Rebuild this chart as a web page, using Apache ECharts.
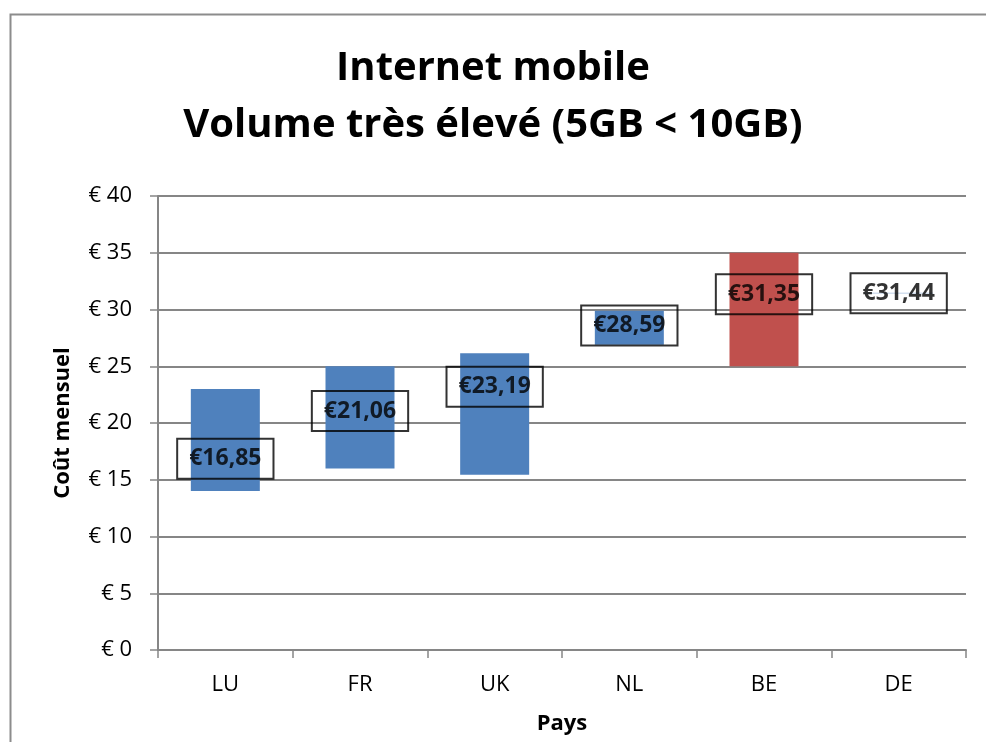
<!DOCTYPE html>
<html>
<head>
<meta charset="utf-8">
<script src="https://cdn.jsdelivr.net/npm/echarts@6/dist/echarts.min.js"></script>
<style>html,body{margin:0;padding:0;background:#fff;}#c{width:986px;height:742px;}</style>
</head>
<body>
<div id="c"></div>
<script>
var categories = ['LU', 'FR', 'UK', 'NL', 'BE', 'DE'];
var minValues = [14.0, 16.0, 15.45, 26.9, 25.0, 31.40];
var maxValues = [23.0, 25.0, 26.15, 29.9, 35.0, 31.48];
var avgValues = [16.85, 21.06, 23.19, 28.59, 31.35, 31.44];
var yTicks = [0, 5, 10, 15, 20, 25, 30, 35, 40];

var FONT = '"Open Sans", "Noto Sans", sans-serif';
var barColors = ['#4F81BD', '#4F81BD', '#4F81BD', '#4F81BD', '#C0504D', '#A7C0DE'];

var chart = echarts.init(document.getElementById('c'));
var rangeData = categories.map(function (c, i) {
  return { value: +(maxValues[i] - minValues[i]).toFixed(2), itemStyle: { color: barColors[i] } };
});
var fmt = function (v) { return '€' + v.toFixed(2).replace('.', ','); };

chart.setOption({
  backgroundColor: '#fff',
  animation: false,
  graphic: [{
    type: 'rect', left: 8, top: 12,
    shape: { width: 1000, height: 760 },
    style: { fill: 'none', stroke: '#8c8c8c', lineWidth: 2 }
  }],
  title: {
    text: 'Internet mobile\nVolume très élevé (5GB < 10GB)',
    left: 'center',
    top: 35,
    textStyle: { fontFamily: FONT, fontWeight: 'bold', fontSize: 40, lineHeight: 57, color: '#000' }
  },
  grid: { left: 158, right: 20, top: 196, bottom: 92 },
  xAxis: {
    type: 'category',
    data: categories,
    name: 'Pays',
    nameLocation: 'middle',
    nameGap: 63,
    nameTextStyle: { fontFamily: FONT, fontWeight: 'bold', fontSize: 22, color: '#000' },
    axisLine: { lineStyle: { color: '#868686', width: 2 } },
    axisTick: { show: true, length: 8, alignWithLabel: false, lineStyle: { color: '#868686', width: 1.5 } },
    axisLabel: { fontFamily: FONT, fontSize: 22, color: '#000', margin: 24 }
  },
  yAxis: {
    type: 'value',
    min: 0, max: 40, interval: 5,
    name: 'Coût mensuel',
    nameLocation: 'middle',
    nameGap: 84,
    nameRotate: 90,
    nameTextStyle: { fontFamily: FONT, fontWeight: 'bold', fontSize: 22, color: '#000' },
    axisLine: { show: true, lineStyle: { color: '#868686', width: 2 } },
    axisTick: { show: true, length: 8, lineStyle: { color: '#868686', width: 1.5 } },
    axisLabel: {
      fontFamily: FONT, fontSize: 22, color: '#000', margin: 26,
      formatter: function (v) { return yTicks.indexOf(v) >= 0 ? '€ ' + v : ''; }
    },
    splitLine: { show: true, lineStyle: { color: '#868686', width: 2 } }
  },
  series: [
    {
      type: 'bar', stack: 'r', barWidth: 69, silent: true,
      itemStyle: { color: 'transparent' },
      data: minValues
    },
    {
      type: 'bar', stack: 'r', barWidth: 69,
      data: rangeData
    },
    {
      type: 'scatter',
      symbolSize: 1,
      itemStyle: { color: 'transparent' },
      data: avgValues,
      z: 10,
      label: {
        show: true,
        position: 'inside',
        formatter: function (p) { return fmt(p.value); },
        fontFamily: FONT, fontWeight: 'bold', fontSize: 23, color: '#000',
        borderColor: '#000', borderWidth: 2,
        padding: [9, 12, 8, 12]
      }
    }
  ]
});
</script>
</body>
</html>
